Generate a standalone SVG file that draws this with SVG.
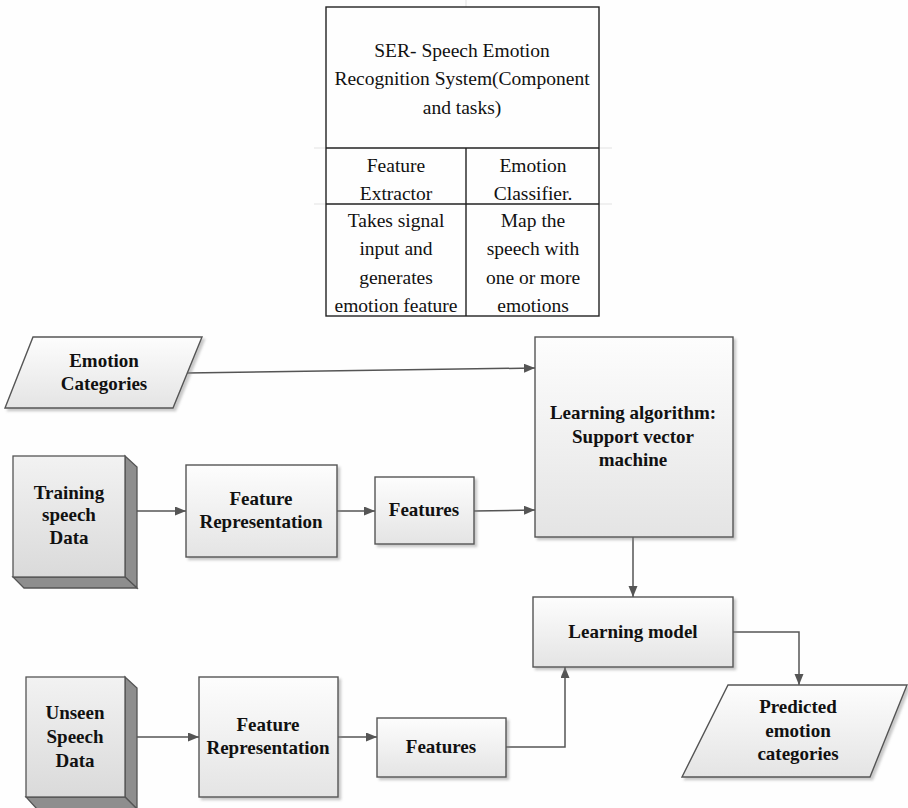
<svg xmlns="http://www.w3.org/2000/svg" width="908" height="808" viewBox="0 0 908 808">
<defs>
<linearGradient id="g" x1="0" y1="0" x2="0" y2="1">
<stop offset="0" stop-color="#fdfdfd"/>
<stop offset="1" stop-color="#e4e4e4"/>
</linearGradient>
<linearGradient id="g2" x1="0" y1="0" x2="0" y2="1">
<stop offset="0" stop-color="#f2f2f2"/>
<stop offset="1" stop-color="#dadada"/>
</linearGradient>
<filter id="sh" x="-10%" y="-10%" width="130%" height="130%">
<feDropShadow dx="2.5" dy="2.5" stdDeviation="1.2" flood-color="#888" flood-opacity="0.45"/>
</filter>
<marker id="ar" markerUnits="userSpaceOnUse" markerWidth="12" markerHeight="10" refX="11" refY="4.5" orient="auto">
<path d="M0,0 L11,4.5 L0,9 z" fill="#555"/>
</marker>
</defs>
<rect width="908" height="808" fill="#fefefe"/>

<g id="gridlines" stroke="#e2e2e2" stroke-width="1">
<line x1="466" y1="0" x2="466" y2="7"/>
<line x1="599" y1="148" x2="612" y2="148"/>
<line x1="599" y1="204" x2="612" y2="204"/>
<line x1="314" y1="148" x2="326" y2="148"/>
<line x1="314" y1="204" x2="326" y2="204"/>
</g>

<g id="ser-table">
<g fill="none" stroke="#222" stroke-width="1.4">
<rect x="326" y="7" width="273" height="309"/>
<line x1="326" y1="148" x2="599" y2="148"/>
<line x1="326" y1="204" x2="599" y2="204"/>
<line x1="466" y1="148" x2="466" y2="316"/>
</g>
<text x="462" y="57" font-family="Liberation Serif" font-size="19.5" text-anchor="middle" fill="#111">SER- Speech Emotion</text>
<text x="462" y="85" font-family="Liberation Serif" font-size="19.5" text-anchor="middle" fill="#111">Recognition System(Component</text>
<text x="462" y="114" font-family="Liberation Serif" font-size="19.5" text-anchor="middle" fill="#111">and tasks)</text>
<text x="396" y="172" font-family="Liberation Serif" font-size="19.5" text-anchor="middle" fill="#111">Feature</text>
<text x="396" y="200" font-family="Liberation Serif" font-size="19.5" text-anchor="middle" fill="#111">Extractor</text>
<text x="533" y="172" font-family="Liberation Serif" font-size="19.5" text-anchor="middle" fill="#111">Emotion</text>
<text x="533" y="200" font-family="Liberation Serif" font-size="19.5" text-anchor="middle" fill="#111">Classifier.</text>
<text x="396" y="227" font-family="Liberation Serif" font-size="19.5" text-anchor="middle" fill="#111">Takes signal</text>
<text x="396" y="255" font-family="Liberation Serif" font-size="19.5" text-anchor="middle" fill="#111">input and</text>
<text x="396" y="284" font-family="Liberation Serif" font-size="19.5" text-anchor="middle" fill="#111">generates</text>
<text x="396" y="312" font-family="Liberation Serif" font-size="19.5" text-anchor="middle" fill="#111">emotion feature</text>
<text x="533" y="227" font-family="Liberation Serif" font-size="19.5" text-anchor="middle" fill="#111">Map the</text>
<text x="533" y="255" font-family="Liberation Serif" font-size="19.5" text-anchor="middle" fill="#111">speech with</text>
<text x="533" y="284" font-family="Liberation Serif" font-size="19.5" text-anchor="middle" fill="#111">one or more</text>
<text x="533" y="312" font-family="Liberation Serif" font-size="19.5" text-anchor="middle" fill="#111">emotions</text>
</g>

<g id="connectors" fill="none" stroke="#555" stroke-width="1.5">
<line x1="187" y1="373" x2="535" y2="368" marker-end="url(#ar)"/>
<line x1="125" y1="511" x2="186" y2="511" marker-end="url(#ar)"/>
<line x1="337" y1="511" x2="375" y2="511" marker-end="url(#ar)"/>
<line x1="474" y1="511" x2="535" y2="510" marker-end="url(#ar)"/>
<line x1="633" y1="537" x2="633" y2="597" marker-end="url(#ar)"/>
<polyline points="733,632 799,632 799,685" marker-end="url(#ar)"/>
<line x1="125" y1="737" x2="199" y2="737" marker-end="url(#ar)"/>
<line x1="338" y1="737" x2="377" y2="737" marker-end="url(#ar)"/>
<polyline points="506,747 565,747 565,667" marker-end="url(#ar)"/>
</g>

<g id="emotion-categories">
<polygon points="33,337 202,337 173,408 5,408" fill="url(#g)" stroke="#555" stroke-width="1.4" filter="url(#sh)"/>
<text x="104" y="367" font-family="Liberation Serif" font-size="19" font-weight="bold" text-anchor="middle" fill="#111">Emotion</text>
<text x="104" y="390" font-family="Liberation Serif" font-size="19" font-weight="bold" text-anchor="middle" fill="#111">Categories</text>
</g>

<g id="training-speech-data">
<polygon points="125,456 137,467 137,588 125,577" fill="#8e8e8e" stroke="#555" stroke-width="1.3"/>
<polygon points="13,577 125,577 137,588 24,588" fill="#8e8e8e" stroke="#555" stroke-width="1.3"/>
<rect x="13" y="456" width="112" height="121" fill="url(#g2)" stroke="#555" stroke-width="1.3"/>
<text x="69" y="499" font-family="Liberation Serif" font-size="19" font-weight="bold" text-anchor="middle" fill="#111">Training</text>
<text x="69" y="521" font-family="Liberation Serif" font-size="19" font-weight="bold" text-anchor="middle" fill="#111">speech</text>
<text x="69" y="544" font-family="Liberation Serif" font-size="19" font-weight="bold" text-anchor="middle" fill="#111">Data</text>
</g>

<g id="feature-representation-1">
<rect x="186" y="465" width="151" height="92" fill="url(#g)" stroke="#555" stroke-width="1.4" filter="url(#sh)"/>
<text x="261" y="505" font-family="Liberation Serif" font-size="19" font-weight="bold" text-anchor="middle" fill="#111">Feature</text>
<text x="261" y="528" font-family="Liberation Serif" font-size="19" font-weight="bold" text-anchor="middle" fill="#111">Representation</text>
</g>

<g id="features-1">
<rect x="375" y="477" width="99" height="67" fill="url(#g)" stroke="#555" stroke-width="1.4" filter="url(#sh)"/>
<text x="424" y="516" font-family="Liberation Serif" font-size="19" font-weight="bold" text-anchor="middle" fill="#111">Features</text>
</g>

<g id="learning-algorithm">
<rect x="535" y="337" width="198" height="200" fill="url(#g)" stroke="#555" stroke-width="1.4" filter="url(#sh)"/>
<text x="633" y="419" font-family="Liberation Serif" font-size="19" font-weight="bold" text-anchor="middle" fill="#111">Learning algorithm:</text>
<text x="633" y="443" font-family="Liberation Serif" font-size="19" font-weight="bold" text-anchor="middle" fill="#111">Support vector</text>
<text x="633" y="466" font-family="Liberation Serif" font-size="19" font-weight="bold" text-anchor="middle" fill="#111">machine</text>
</g>

<g id="learning-model">
<rect x="533" y="597" width="200" height="70" fill="url(#g)" stroke="#555" stroke-width="1.4" filter="url(#sh)"/>
<text x="633" y="638" font-family="Liberation Serif" font-size="19" font-weight="bold" text-anchor="middle" fill="#111">Learning model</text>
</g>

<g id="predicted-emotion-categories">
<polygon points="728,685 907,685 870,777 682,777" fill="url(#g)" stroke="#555" stroke-width="1.4" filter="url(#sh)"/>
<text x="798" y="713" font-family="Liberation Serif" font-size="19" font-weight="bold" text-anchor="middle" fill="#111">Predicted</text>
<text x="798" y="737" font-family="Liberation Serif" font-size="19" font-weight="bold" text-anchor="middle" fill="#111">emotion</text>
<text x="798" y="760" font-family="Liberation Serif" font-size="19" font-weight="bold" text-anchor="middle" fill="#111">categories</text>
</g>

<g id="unseen-speech-data">
<polygon points="125,677 137,688 137,809 125,797" fill="#8e8e8e" stroke="#555" stroke-width="1.3"/>
<polygon points="26,797 125,797 137,809 37,809" fill="#8e8e8e" stroke="#555" stroke-width="1.3"/>
<rect x="26" y="677" width="99" height="120" fill="url(#g2)" stroke="#555" stroke-width="1.3"/>
<text x="75" y="719" font-family="Liberation Serif" font-size="19" font-weight="bold" text-anchor="middle" fill="#111">Unseen</text>
<text x="75" y="743" font-family="Liberation Serif" font-size="19" font-weight="bold" text-anchor="middle" fill="#111">Speech</text>
<text x="75" y="767" font-family="Liberation Serif" font-size="19" font-weight="bold" text-anchor="middle" fill="#111">Data</text>
</g>

<g id="feature-representation-2">
<rect x="199" y="677" width="139" height="120" fill="url(#g)" stroke="#555" stroke-width="1.4" filter="url(#sh)"/>
<text x="268" y="731" font-family="Liberation Serif" font-size="19" font-weight="bold" text-anchor="middle" fill="#111">Feature</text>
<text x="268" y="754" font-family="Liberation Serif" font-size="19" font-weight="bold" text-anchor="middle" fill="#111">Representation</text>
</g>

<g id="features-2">
<rect x="377" y="718" width="129" height="59" fill="url(#g)" stroke="#555" stroke-width="1.4" filter="url(#sh)"/>
<text x="441" y="753" font-family="Liberation Serif" font-size="19" font-weight="bold" text-anchor="middle" fill="#111">Features</text>
</g>
</svg>
